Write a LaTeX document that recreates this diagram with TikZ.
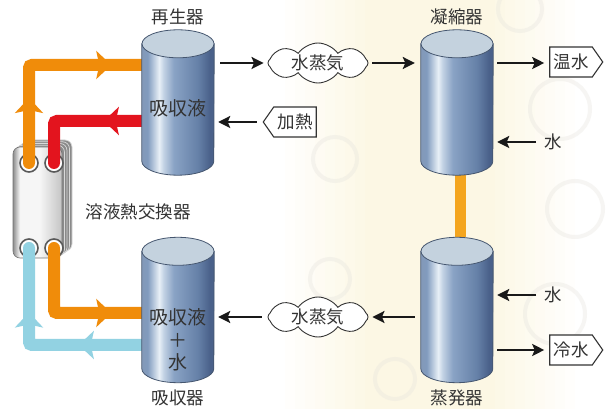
\documentclass[tikz,border=0pt]{standalone}
\usepackage{fontspec}
\setmainfont{Noto Sans CJK JP}
\usetikzlibrary{arrows.meta,shapes.symbols,decorations.markings,calc}

\definecolor{txt}{HTML}{333333}
\definecolor{pipeOr}{HTML}{F08C0A}
\definecolor{pipeRed}{HTML}{E3141E}
\definecolor{pipeBlue}{HTML}{92D2E2}
\definecolor{linkOr}{HTML}{F4A51E}
\definecolor{cylTop}{HTML}{C4D2DE}
\definecolor{cylEdge}{HTML}{45566F}
\definecolor{cb1}{HTML}{8399B8}
\definecolor{cb2}{HTML}{819BBE}
\definecolor{cbw}{HTML}{E8F0F7}
\definecolor{cb3}{HTML}{C3D2E4}
\definecolor{cb4}{HTML}{8AA3C5}
\definecolor{cb5}{HTML}{6580A7}
\definecolor{cb6}{HTML}{4A618A}
\definecolor{hx1}{HTML}{8E8E8E}
\definecolor{hxW}{HTML}{F6F6F6}
\definecolor{hx3}{HTML}{C4C4C4}
\definecolor{plate}{HTML}{8A8A8A}
\definecolor{cream}{HTML}{FCF7E4}
\definecolor{ghost}{HTML}{E6E4DE}

% side wall of a vessel: dark edges with a bright streak left of centre
\pgfdeclarehorizontalshading{cylbody}{100bp}{color(0bp)=(cb1); color(25bp)=(cb1);
  color(29bp)=(cb2); color(37bp)=(cbw); color(40bp)=(cb3); color(47bp)=(cb4);
  color(64bp)=(cb5); color(72bp)=(cb6); color(75bp)=(cb6); color(100bp)=(cb6)}
% front plate of the heat exchanger
\pgfdeclarehorizontalshading{hxface}{100bp}{color(0bp)=(hx1); color(25bp)=(hx1);
  color(32bp)=(hxW); color(52bp)=(hxW); color(75bp)=(hx3); color(100bp)=(hx3)}

% draws a vertical cylinder filling the named node
\newcommand\drawvessel[1]{%
  \shade[shading=cylbody, draw=cylEdge, line width=0.8pt]
    ($(#1.north west)+(0,-14pt)$) -- ($(#1.south west)+(0,14pt)$)
    arc[start angle=180, end angle=360, x radius=36pt, y radius=14pt]
    -- ($(#1.north east)+(0,-14pt)$) -- cycle;
  \filldraw[fill=cylTop, draw=cylEdge, line width=0.8pt]
    ($(#1.north)+(0,-14pt)$) ellipse[x radius=36pt, y radius=14pt];
}

\tikzset{
  vessel/.style={minimum width=72pt, minimum height=145pt, inner sep=0pt},
  lab/.style={font=\fontsize{17.5}{20}\selectfont, text=txt, inner sep=1pt},
  big/.style={font=\fontsize{19}{22.5}\selectfont, text=txt, align=center, inner sep=0pt},
  arr/.style={line width=2.6pt, draw=black!90, -{Stealth[length=12pt,width=12pt,inset=2.5pt]}},
  steam/.style={cloud, cloud puffs=8, cloud puff arc=110, cloud ignores aspect, draw=txt, fill=white,
    line width=0.9pt, minimum width=100pt, minimum height=40pt, lab},
  tagbox/.style={signal, draw=txt, fill=white, line width=1.1pt, signal pointer angle=110,
    minimum width=53pt, minimum height=30pt, lab, inner sep=3pt},
  pipe/.style={line width=12pt, rounded corners=3pt},
  tipmark/.style 2 args={postaction={decorate, decoration={markings,
    mark=at position #1 with {\arrow[#2]{Stealth[length=15pt,width=28pt,inset=3pt]}}}}},
  ring/.style={fill=white, draw=black!65, line width=1.6pt},
}

\begin{document}
\begin{tikzpicture}[x=1pt, y=1pt]
\useasboundingbox (0,0) rectangle (607,409);
\fill[white] (0,0) rectangle (607,409);

% faded backdrop: a pale cream band, strongest behind the right-hand vessels
\foreach \i in {0,...,29} {
  \pgfmathsetmacro\xx{285+10*\i}
  \pgfmathsetmacro\pc{100*max(0,min(1,(150-abs(\xx+5-430))/90))}
  \fill[cream!\pc!white] (\xx,0) rectangle (\xx+10.6,409);
}
\foreach \cx/\cy/\r in {560/300/30, 575/200/28, 555/95/30, 335/250/22, 330/130/20, 395/30/20, 520/400/22}
  \draw[ghost, line width=4pt, opacity=0.35] (\cx,\cy) circle[radius=\r];

% vessels (placed first so the piping can refer to them)
\node[vessel] (regen) at (178,306.5) {};
\node[vessel] (cond)  at (457,306.5) {};
\node[vessel] (absb)  at (178,99) {};
\node[vessel] (evap)  at (457,99) {};

% link between condenser and evaporator
\draw[linkOr, line width=11pt] ([xshift=3pt]cond.south) -- ([xshift=3pt]evap.north);

% solution heat exchanger: stacked plates behind the front plate
\foreach \d in {10,7.5,5,2.5}
  \filldraw[fill=plate, draw=white!85!black, line width=0.7pt, rounded corners=7pt]
    (13+\d,151+0.7*\d) rectangle (62+\d,262+0.7*\d);
\node[shading=hxface, draw=black!55, line width=0.6pt, rounded corners=7pt,
  minimum width=49pt, minimum height=111pt, inner sep=0pt] (hx) at (37.5,206.5) {};

% ports on the front plate
\coordinate (pTL) at (29,246);
\coordinate (pTR) at (54,246);
\coordinate (pBL) at (29,161);
\coordinate (pBR) at (54,161);
\foreach \p in {pTL,pTR,pBL,pBR}
  \draw[ring] (\p) circle[radius=9pt];

% solution piping
\draw[pipe, pipeOr, tipmark={65pt}{pipeOr}, tipmark={179pt}{pipeOr}]
  (pTL) -- (29,344) -- ([xshift=5pt]regen.west |- 0,344);
\draw[pipe, pipeRed, tipmark={43pt}{pipeRed}]
  ([xshift=5pt]regen.west |- 0,288) -- (54,288) -- (pTR);
\draw[pipe, pipeBlue, tipmark={68pt}{pipeBlue}, tipmark={149pt}{pipeBlue}]
  ([xshift=5pt]absb.west |- 0,64) -- (29,64) -- (pBL);
\draw[pipe, pipeOr, tipmark={121pt}{pipeOr}]
  (pBR) -- (54,96) -- ([xshift=5pt]absb.west |- 0,96);

\fill[pipeOr] (pTL) circle[radius=6pt];
\fill[pipeRed] (pTR) circle[radius=6pt];
\fill[pipeBlue] (pBL) circle[radius=6pt];
\fill[pipeOr] (pBR) circle[radius=6pt];

\drawvessel{regen}
\drawvessel{cond}
\drawvessel{absb}
\drawvessel{evap}

% titles
\node[lab] (tRegen) at (178,392) {再生器};
\node[lab] (tCond)  at (457,392) {凝縮器};
\node[lab] (tAbsb)  at (178,11) {吸収器};
\node[lab] (tEvap)  at (457,11) {蒸発器};
\node[lab] (tHx)    at (138,197) {溶液熱交換器};

% contents
\node[big] (liq1) at (178,301) {吸収液};
\node[big] (liq2) at (178,69) {吸収液\\＋\\水};

% vapour, heat and water streams
\node[steam] (steam1) at (318,346) {水蒸気};
\node[steam] (steam2) at (318,92) {水蒸気};
\node[tagbox, signal to=east] (hot)  at (571,347) {温水};
\node[tagbox, signal to=west] (heat) at (295,287) {加熱};
\node[tagbox, signal to=east] (cold) at (571,59) {冷水};
\node[lab] (w1) at (553,267) {水};
\node[lab] (w2) at (553,114) {水};

\draw[arr] ($(regen.east |- steam1)+(6pt,0)$) -- ($(steam1.west)+(-4pt,0)$);
\draw[arr] ($(steam1.east)+(4pt,0)$) -- ($(cond.west |- steam1)+(-6pt,0)$);
\draw[arr] ($(cond.east |- hot)+(4pt,-1pt)$) -- ($(hot.west)+(-5pt,-1pt)$);
\draw[arr] ($(heat.west)+(-6pt,0)$) -- ($(regen.east |- heat)+(4pt,0)$);
\draw[arr] ($(w1.west)+(-7pt,0)$) -- ($(cond.east |- w1)+(4pt,0)$);
\draw[arr] ($(w2.west)+(-7pt,0)$) -- ($(evap.east |- w2)+(4pt,0)$);
\draw[arr] ($(evap.east |- cold)+(4pt,0)$) -- ($(cold.west)+(-5pt,0)$);
\draw[arr] ($(evap.west |- steam2)+(-6pt,0)$) -- ($(steam2.east)+(4pt,0)$);
\draw[arr] ($(steam2.west)+(-6pt,0)$) -- ($(absb.east |- steam2)+(4pt,0)$);
\end{tikzpicture}
\end{document}
